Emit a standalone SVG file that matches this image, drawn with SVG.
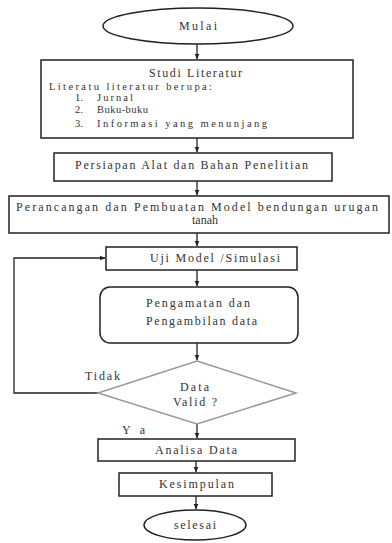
<svg xmlns="http://www.w3.org/2000/svg" width="392" height="543" viewBox="0 0 392 543">
<style>
.b{fill:#fff;stroke:#222;stroke-width:1.5}
.d{fill:#fff;stroke:#999;stroke-width:1.5}
.t{font-family:"Liberation Serif","Times New Roman",serif;font-size:12px;fill:#333}
.s{font-size:10.5px}
.c{stroke:#222;stroke-width:1.3;fill:none}
</style>
<defs>
<marker id="a" viewBox="0 0 6 6" refX="5.5" refY="3" markerWidth="6" markerHeight="6" orient="auto" markerUnits="userSpaceOnUse">
<path d="M0,0.5 L6,3 L0,5.5 z" fill="#222"/>
</marker>
</defs>
<rect width="392" height="543" fill="#fff"/>
<g id="connectors">
<line class="c" x1="197" y1="44" x2="197" y2="59" marker-end="url(#a)"/>
<line class="c" x1="197" y1="138" x2="197" y2="152" marker-end="url(#a)"/>
<line class="c" x1="197" y1="181" x2="197" y2="195" marker-end="url(#a)"/>
<line class="c" x1="197" y1="233" x2="197" y2="246" marker-end="url(#a)"/>
<line class="c" x1="197" y1="270" x2="197" y2="286" marker-end="url(#a)"/>
<line class="c" x1="197" y1="343" x2="197" y2="360" marker-end="url(#a)"/>
<line class="c" x1="197" y1="424" x2="197" y2="438" marker-end="url(#a)"/>
<line class="c" x1="196" y1="461" x2="196" y2="472" marker-end="url(#a)"/>
<line class="c" x1="196" y1="496" x2="196" y2="509" marker-end="url(#a)"/>
<polyline class="c" points="98,393 14,393 14,258 105,258" marker-end="url(#a)"/>
</g>
<g id="mulai">
<ellipse class="b" cx="198" cy="26" rx="95" ry="18"/>
<text class="t" x="198" y="30" text-anchor="middle" textLength="38" lengthAdjust="spacing">Mulai</text>
</g>
<g id="studi">
<rect class="b" x="41" y="60" width="312" height="78"/>
<text class="t" x="195.5" y="77" text-anchor="middle" textLength="93" lengthAdjust="spacing">Studi Literatur</text>
<text class="t s" x="49" y="90" textLength="163" lengthAdjust="spacing">Literatu literatur berupa:</text>
<text class="t s" x="75" y="101">1.</text>
<text class="t s" x="97" y="101" textLength="36" lengthAdjust="spacing">Jurnal</text>
<text class="t s" x="75" y="113">2.</text>
<text class="t s" x="97" y="113" textLength="51" lengthAdjust="spacing">Buku-buku</text>
<text class="t s" x="75" y="127">3.</text>
<text class="t s" x="97" y="127" textLength="170" lengthAdjust="spacing">Informasi yang menunjang</text>
</g>
<g id="persiapan">
<rect class="b" x="54" y="153" width="278" height="28"/>
<text class="t" x="191.5" y="169" text-anchor="middle" textLength="233" lengthAdjust="spacing">Persiapan Alat dan Bahan Penelitian</text>
</g>
<g id="perancangan">
<rect class="b" x="9" y="196" width="380" height="37"/>
<text class="t" x="197" y="211" text-anchor="middle" textLength="362" lengthAdjust="spacing">Perancangan dan Pembuatan Model bendungan urugan</text>
<text class="t" x="205" y="224" text-anchor="middle" textLength="26" lengthAdjust="spacing">tanah</text>
</g>
<g id="uji">
<rect class="b" x="106" y="247" width="191" height="23"/>
<text class="t" x="215" y="262" text-anchor="middle" textLength="130" lengthAdjust="spacing">Uji Model /Simulasi</text>
</g>
<g id="pengamatan">
<rect class="b" x="100" y="287" width="198" height="56" rx="10"/>
<text class="t" x="198" y="307" text-anchor="middle" textLength="104" lengthAdjust="spacing">Pengamatan  dan</text>
<text class="t" x="201.5" y="325" text-anchor="middle" textLength="111" lengthAdjust="spacing">Pengambilan  data</text>
</g>
<g id="valid">
<polygon class="d" points="197,361 296,393 197,424 98,393"/>
<text class="t" x="194.5" y="391" text-anchor="middle" textLength="29" lengthAdjust="spacing">Data</text>
<text class="t" x="195" y="406" text-anchor="middle" textLength="44" lengthAdjust="spacing">Valid ?</text>
<text class="t" x="85" y="380" textLength="35" lengthAdjust="spacing">Tidak</text>
<text class="t" x="122" y="434" textLength="23" lengthAdjust="spacing">Y a</text>
</g>
<g id="analisa">
<rect class="b" x="98" y="439" width="197" height="22"/>
<text class="t" x="196" y="454" text-anchor="middle" textLength="82" lengthAdjust="spacing">Analisa Data</text>
</g>
<g id="kesimpulan">
<rect class="b" x="119" y="473" width="153" height="23"/>
<text class="t" x="196.5" y="488" text-anchor="middle" textLength="75" lengthAdjust="spacing">Kesimpulan</text>
</g>
<g id="selesai">
<ellipse class="b" cx="195" cy="525" rx="51" ry="15"/>
<text class="t" x="195" y="529" text-anchor="middle" textLength="42" lengthAdjust="spacing">selesai</text>
</g>
</svg>
